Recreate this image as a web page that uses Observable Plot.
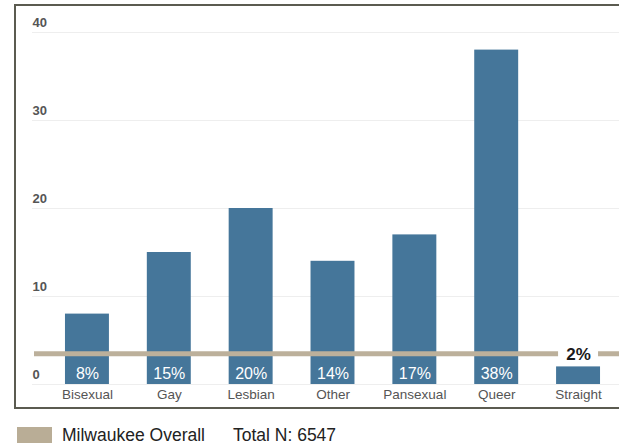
<!DOCTYPE html>
<html>
<head>
<meta charset="utf-8">
<script src="https://cdn.jsdelivr.net/npm/d3@7"></script>
<script src="https://cdn.jsdelivr.net/npm/@observablehq/plot@0.6"></script>
<style>
  html, body { margin: 0; padding: 0; background: #fff; overflow: hidden; }
  body { width: 619px; height: 446px; position: relative; font-family: "Liberation Sans", Arial, sans-serif; }
  #box { position: absolute; left: 14px; top: 4px; width: 605px; height: 401px;
         border-left: 2px solid #5b5b50; border-top: 2px solid #5b5b50; border-bottom: 2px solid #5b5b50; }
  #chart svg { display: block; }
  #legend { position: absolute; left: 17px; top: 425px; height: 20px; display: flex; align-items: center; color: #222; font-size: 17.5px; }
  #legend .sw { width: 35px; height: 16px; background: #b9ad96; margin-right: 10px; }
  #legend .total { margin-left: 28px; }
</style>
</head>
<body>
<div id="box"><div id="chart"></div></div>
<div id="legend"><div class="sw"></div><span id="lgname"></span><span class="total" id="lgtotal"></span></div>
<script>
const categories = ["Bisexual", "Gay", "Lesbian", "Other", "Pansexual", "Queer", "Straight"];
const values = [8, 15, 20, 14, 17, 38, 2];
const milwaukeeOverall = 3.5;
const yTicks = [0, 10, 20, 30, 40];
const legendName = "Milwaukee Overall";
const totalN = 6547;

const data = categories.map((c, i) => ({category: c, value: values[i]}));
const above = data.filter(d => d.value >= milwaukeeOverall);
const below = data.filter(d => d.value < milwaukeeOverall);

const W = 603, H = 401;
const mL = 32.6, mR = 2.6;

const chart = Plot.plot({
  width: W,
  height: H,
  marginTop: 26,
  marginBottom: 23,
  marginLeft: mL,
  marginRight: mR,
  style: {fontFamily: "'Liberation Sans', Arial, sans-serif", background: "white"},
  x: {type: "band", domain: categories, paddingInner: 0.463, paddingOuter: 0.2, round: false, axis: null},
  y: {domain: [0, 40], axis: null},
  marks: [
    Plot.ruleY(yTicks, {stroke: "#eeeeee", strokeWidth: 1, insetLeft: -16.6, insetRight: -3}),
    Plot.text(yTicks, {y: d => d, text: d => String(d), frameAnchor: "left", textAnchor: "start",
      dx: -16.6, dy: -10, fill: "#555", fontSize: 13, fontWeight: "bold"}),
    Plot.barY(data, {x: "category", y: "value", fill: "#45769a"}),
    Plot.ruleY([milwaukeeOverall], {stroke: "#bcb09b", strokeWidth: 5, insetLeft: -14.6, insetRight: -3}),
    Plot.barY(below, {x: "category", y1: milwaukeeOverall - 0.6, y2: milwaukeeOverall + 0.6,
      fill: "white", insetLeft: 2, insetRight: 2}),
    Plot.text(above, {x: "category", y: 0, dy: -11, text: d => d.value + "%", fill: "white", fontSize: 16}),
    Plot.text(below, {x: "category", y: milwaukeeOverall, dy: 1, text: d => d.value + "%", fill: "#1a1a1a",
      fontSize: 17, fontWeight: "bold"}),
    Plot.text(data, {x: "category", y: 0, dy: 10, text: "category", fill: "#555", fontSize: 13.5})
  ]
});
document.getElementById("chart").appendChild(chart);
document.getElementById("lgname").textContent = legendName;
document.getElementById("lgtotal").textContent = "Total N: " + totalN;
</script>
</body>
</html>
